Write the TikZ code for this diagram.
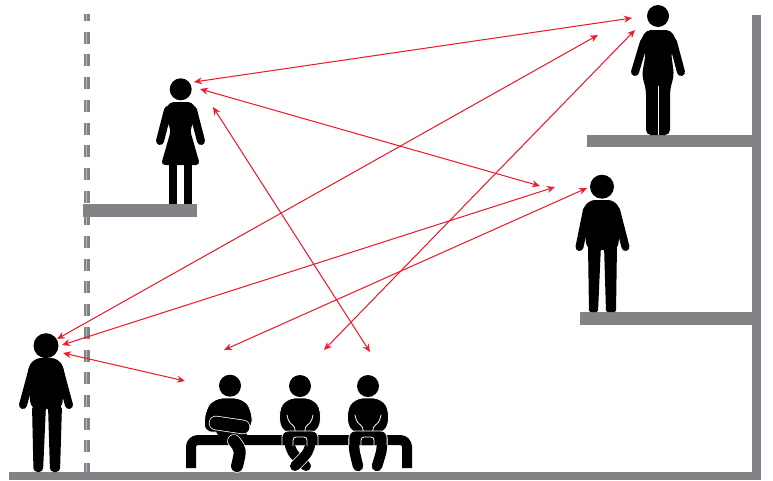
\documentclass[tikz,border=0pt]{standalone}
\usepackage{xcolor}
\usepackage{tikz}
\usetikzlibrary{arrows.meta}
\definecolor{wallgray}{RGB}{130,131,135}
\definecolor{linkred}{RGB}{237,28,46}

\begin{document}
\begin{tikzpicture}[
  x=1pt, y=-1pt,
  wall/.style={fill=wallgray, draw=none},
  dashline/.style={line width=#1, dash pattern=on 12pt off 10.7pt, dash phase=5pt},
  body/.style={fill=black, draw=none, rounded corners=5pt},
  seat/.style={fill=black, draw=white, line width=0.8pt, rounded corners=9pt},
  limb/.style={draw=black, line cap=round, line join=round, line width=#1},
  limb/.default=8pt,
  rim/.style={draw=white, line cap=round, line width=#1},
  rim/.default=0.8pt,
  link/.style={{Stealth[length=8pt,width=7pt]}-{Stealth[length=8pt,width=7pt]}, draw=linkred, line width=1.05pt}
]
\useasboundingbox (0,0) rectangle (773,480);

% building
\fill[wall] (9,472) rectangle (761,480);
\fill[wall] (752,15) rectangle (761,472);
\fill[wall] (587,135) rectangle (752,147);
\fill[wall] (580,312) rectangle (752,325);
\draw[wallgray, dashline=6pt] (86.7,14) -- (86.7,472);
\draw[wallgray!55, dashline=0.8pt] (86.7,14) -- (86.7,472);
\fill[wall] (83,204) rectangle (197,217);

% upper left woman
\fill (180.7,89.3) circle (11);
\draw[limb] (168,110) -- (160,141);
\draw[limb] (193,110) -- (201,141);
\path[body, rounded corners=4pt] (163,113) -- (170,102) -- (192,102) -- (198,113) -- (190,130) -- (200,165) -- (161,165) -- (171,130) -- cycle;
\fill (169,160) rectangle (177,204);
\fill (184,160) rectangle (192,204);

% top right woman
\fill (658,16) circle (11);
\draw[limb] (644,42) -- (635,72);
\draw[limb] (673,42) -- (681,72);
\path[body] (646,30) -- (671,30) -- (678,44) -- (671,52) -- (674,75) -- (670,90) -- (670,135) -- (646,135) -- (646,90) -- (642,75) -- (646,52) -- (639,44) -- cycle;
\draw[white, line width=0.8pt] (658,86) -- (658,135);

% middle right man
\fill (602,186.7) circle (12);
\draw[limb] (587,210) -- (579.5,247);
\draw[limb] (616,210) -- (625.5,247);
\path[body, rounded corners=7pt] (582,212) -- (588,200) -- (615,200) -- (621,212) -- (618,250) -- (587,250) -- cycle;
\path[body, rounded corners=1.5pt] (588,245) -- (601,245) -- (598,312) -- (589,312) -- cycle;
\path[body, rounded corners=1.5pt] (604,245) -- (617,245) -- (616,312) -- (606,312) -- cycle;

% left man
\fill (46,345.7) circle (12.5);
\draw[limb] (33,368) -- (23,405);
\draw[limb] (59,368) -- (69,405);
\path[body, rounded corners=7pt] (27,370) -- (34,358) -- (58,358) -- (65,370) -- (62,409) -- (31,409) -- cycle;
\path[body, rounded corners=4pt] (32,405) -- (46,405) -- (43,472) -- (33.5,472) -- cycle;
\path[body, rounded corners=4pt] (48,405) -- (62,405) -- (60,472) -- (50,472) -- cycle;

% bench
\draw[black, line width=10pt, rounded corners=7pt] (191,468) -- (191,440) -- (407,440) -- (407,468);

% bench sitter one
\fill (230,385.7) circle (11);
\path[seat] (214,398) -- (243,398) -- (252,410) -- (252,430) -- (214,432) -- (204,433) -- (205,410) -- cycle;
\path[body] (214,428) -- (247,430) -- (247,446) -- (222,442) -- cycle;
\draw[rim=13.5pt] (234,441) .. controls (241,450) .. (237,466);
\draw[limb=12pt] (234,441) .. controls (241,450) .. (237,466);
\draw[rim=14.5pt] (216,423) -- (243,427);
\draw[limb=13pt] (216,423) -- (243,427);

% bench sitter two
\fill (300,386) circle (11);
\path[seat] (286,398) -- (314,398) -- (322,412) -- (318,433) -- (282,433) -- (278,412) -- cycle;
\draw[rim=11.5pt] (289,440) .. controls (291,452) .. (306,466);
\draw[limb=10pt] (289,440) .. controls (291,452) .. (306,466);
\draw[rim=11.5pt] (311,440) .. controls (309,452) .. (295,466);
\draw[limb=10pt] (311,440) .. controls (309,452) .. (295,466);
\path[seat, rounded corners=6pt] (282,445) -- (282,431) -- (318,431) -- (318,445);
\draw[rim, rounded corners=3pt] (293,446) -- (293,437) -- (307,437) -- (307,446);
\draw[rim, rounded corners=4pt] (287,415) -- (289,423) -- (296,427) -- (295,431);
\draw[rim, rounded corners=4pt] (313,415) -- (311,423) -- (304,427) -- (305,431);

% bench sitter three
\fill (368,386) circle (11);
\path[seat] (354,398) -- (382,398) -- (390,412) -- (386,433) -- (350,433) -- (346,412) -- cycle;
\draw[rim=11.5pt] (354,440) .. controls (354,450) .. (358,466);
\draw[limb=10.5pt] (354,440) .. controls (354,450) .. (358,466);
\draw[rim=11.5pt] (382,440) .. controls (382,450) .. (377,466);
\draw[limb=10.5pt] (382,440) .. controls (382,450) .. (377,466);
\path[seat, rounded corners=6pt] (349,445) -- (349,431) -- (387,431) -- (387,445);
\draw[rim, rounded corners=3pt] (361,446) -- (361,437) -- (374,437) -- (374,446);
\draw[rim, rounded corners=4pt] (355,415) -- (357,423) -- (364,427) -- (363,431);
\draw[rim, rounded corners=4pt] (381,415) -- (379,423) -- (372,427) -- (373,431);

% link ends
\coordinate (womanA) at (194,82);
\coordinate (womanB) at (200,89);
\coordinate (womanC) at (213,107);
\coordinate (manA) at (57,339);
\coordinate (manB) at (62,345);
\coordinate (manC) at (63,353);
\coordinate (topA) at (632,18);
\coordinate (topB) at (598,35);
\coordinate (topC) at (635,30);
\coordinate (midA) at (540,186);
\coordinate (midB) at (555,187);
\coordinate (midC) at (587,188);
\coordinate (benchA) at (185,381);
\coordinate (benchB) at (224,350);
\coordinate (benchC) at (324,350);
\coordinate (benchD) at (370,352);

\draw[link] (womanA) -- (topA);
\draw[link] (womanB) -- (midA);
\draw[link] (womanC) -- (benchD);
\draw[link] (manA) -- (topB);
\draw[link] (manB) -- (midB);
\draw[link] (manC) -- (benchA);
\draw[link] (benchB) -- (midC);
\draw[link] (benchC) -- (topC);
\end{tikzpicture}
\end{document}
